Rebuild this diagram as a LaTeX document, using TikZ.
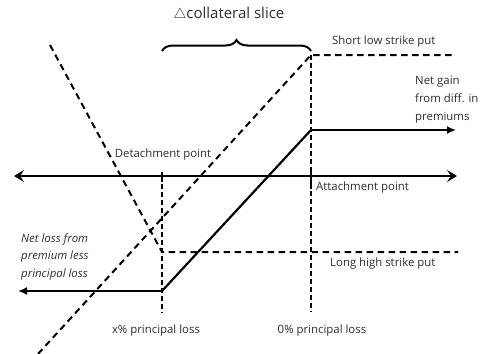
\documentclass[tikz,border=0pt]{standalone}
\usepackage{fontspec}
\setmainfont{Open Sans}
\usetikzlibrary{arrows.meta,decorations.pathreplacing}

\begin{document}
\begin{tikzpicture}[x=1pt,y=-1pt,font=\fontsize{11.4}{18}\selectfont,
    opt/.style={line width=2pt,dash pattern=on 6.5pt off 4.5pt},
    guide/.style={line width=1.1pt,dash pattern=on 4.5pt off 3.5pt},
    payoff/.style={line width=2.2pt},
    lbl/.style={inner sep=0pt,text=black!82}]
\useasboundingbox (0,0) rectangle (483,354);

\coordinate (XL) at (14,176); % axis ends
\coordinate (XR) at (457,176);
\coordinate (DA) at (162,176); % detachment on axis
\coordinate (AA) at (311,176); % attachment on axis
\coordinate (DB) at (162,313); % foot of detachment guide
\coordinate (AT) at (311,55); % kink of short put
\coordinate (AB) at (311,312); % foot of attachment guide
\coordinate (SR) at (456,55);
\coordinate (SL) at (38,354);
\coordinate (LT) at (50,45); % top of long put
\coordinate (LK) at (162,252); % kink of long put
\coordinate (LR) at (458,252);
\coordinate (PL) at (18,291); % payoff
\coordinate (PK) at (162,291);
\coordinate (PH) at (311,130);
\coordinate (PR) at (456,130);

%%% GUIDES %%%
\draw[guide] (DA) -- (DB);
\draw[guide] (AT) -- (AB);

%%% AXIS %%%
\draw[line width=1.7pt,{Stealth[length=10pt,width=12pt,inset=4pt]}-{Stealth[length=10pt,width=12pt,inset=4pt]}] (XL) -- (XR);
\draw[line width=1.7pt] ([yshift=-6pt]DA) -- ([yshift=4pt]DA); % tick
\draw[line width=1.7pt] ([yshift=-13pt]AA) -- ([yshift=4pt]AA); % tick

%%% OPTIONS %%%
\draw[opt] (SL) -- (AT) -- (SR); % short low strike put
\draw[opt] (LT) -- (LK) -- (LR); % long high strike put

%%% PAYOFF %%%
\draw[payoff,-{Latex[length=9pt,width=8pt]}] (PK) -- (PL);
\draw[payoff] (PK) -- (PH);
\draw[payoff,-{Latex[length=9pt,width=8pt]}] (PH) -- (PR);

%%% BRACE %%%
\draw[line width=2pt,decorate,decoration={brace,amplitude=11pt}] (162,51) -- (311,51);
\node[lbl,font=\fontsize{15}{18}\selectfont] (slice) at (229,14) {$\triangle$collateral slice};

%%% LABELS %%%
\node[lbl,anchor=base west] (short) at (332,44) {Short low strike put};
\node[lbl,anchor=base west] (long) at (330,266) {Long high strike put};
\node[lbl,anchor=base west,align=left] (gain) at (415,120) {Net gain\\from diff. in\\premiums};
\node[lbl,anchor=base west,align=left,font=\fontsize{11.4}{17.5}\selectfont\itshape] (loss) at (21,277) {Net loss from\\premium less\\principal loss};
\node[lbl,anchor=base] (detach) at (163,157) {Detachment point};
\node[lbl,anchor=base west] (attach) at (316,190) {Attachment point};
\node[lbl,anchor=base] (xloss) at (156,333) {x\% principal loss};
\node[lbl,anchor=base] (zloss) at (322,333) {0\% principal loss};
\end{tikzpicture}
\end{document}
